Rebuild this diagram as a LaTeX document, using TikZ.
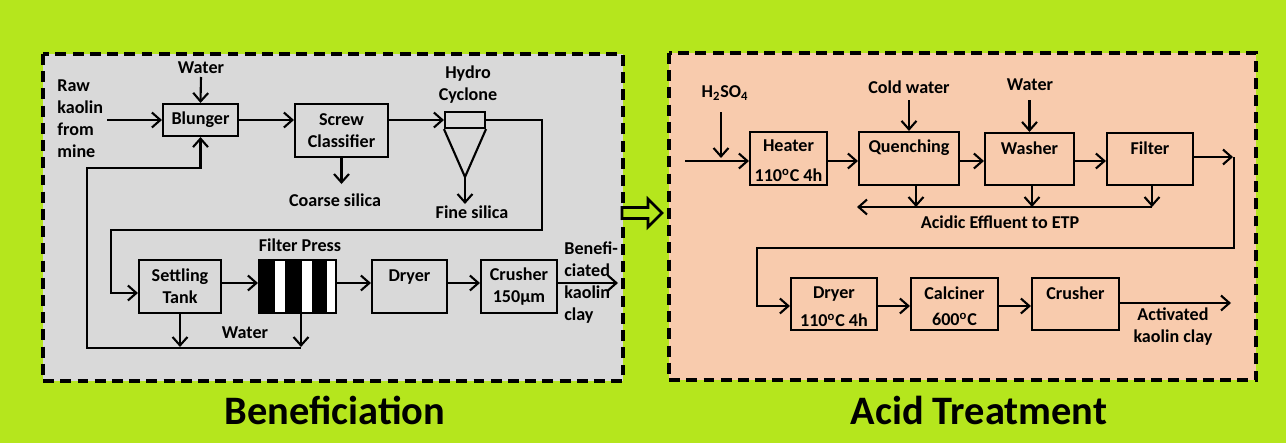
\documentclass[tikz,border=0pt]{standalone}
\usepackage{fontspec}
\setmainfont{Carlito}
\usetikzlibrary{arrows.meta}
\definecolor{bggreen}{HTML}{B5E61D}
\definecolor{panelgray}{HTML}{D9D9D9}
\definecolor{panelpeach}{HTML}{F8CBAD}
\begin{document}
\begin{tikzpicture}[x=0.02cm,y=-0.02cm,
 every node/.style={font=\fontsize{10.3pt}{12.6pt}\selectfont\bfseries, inner sep=0pt},
 box/.style={draw, line width=1.2pt, rectangle, inner sep=0pt},
 txt/.style={align=center},
 ln/.style={line width=1.2pt},
 arr/.style={line width=1.2pt, -{Straight Barb[length=4.8pt,width=8.5pt]}},
 panel/.style={line width=1.9pt, dash pattern=on 6.2pt off 3.6pt},
 title/.style={font=\fontsize{23pt}{27pt}\selectfont\bfseries}]
% background
\fill[bggreen] (0,0) rectangle (1286,443);
\useasboundingbox (0,0) rectangle (1286,443);
% panels
\draw[panel, fill=panelgray] (43,54) rectangle (623,381);
\draw[panel, fill=panelpeach] (669,53) rectangle (1256,380);
% transfer arrow
\draw[line width=1.5pt, fill=bggreen, line join=miter] (622,207.5) -- (648,207.5) -- (648,199) -- (662,213) -- (648,227) -- (648,218.5) -- (622,218.5) -- cycle;

% ---------- Beneficiation ----------
\node[txt, align=left, anchor=west] (raw) at (57,118.5) {Raw\\kaolin\\from\\mine};
\coordinate (rawend) at (107,120);
\node[box, minimum width=1.5cm, minimum height=0.64cm] (blunger) at (200.5,120) {};
\node[txt] (blungerT) at (blunger.center) {Blunger};
\node[txt] (water1) at (201,68) {Water};
\coordinate (water1e) at (201,77);
\node[box, minimum width=1.86cm, minimum height=1.06cm] (screw) at (341.5,130.5) {};
\node[txt] (screwT) at (screw.center) {Screw\\Classifier};
\node[txt] (coarse) at (335,200) {Coarse silica};
\coordinate (coarseE) at (341.5,184);
\node[txt] (hydro) at (468,85) {Hydro\\Cyclone};
\node[box, minimum width=0.8cm, minimum height=0.32cm] (cyctop) at (465,120) {};
\coordinate (apex) at (465,177);
\node[txt] (fine) at (472,212) {Fine silica};
\coordinate (fineE) at (465,204);
\node[txt] (fptxt) at (300,245) {Filter Press};
\node[box, minimum width=1.64cm, minimum height=1.06cm] (settling) at (180,286.5) {};
\node[txt] (settlingT) at (settling.center) {Settling\\Tank};
\node[box, fill=white, minimum width=1.54cm, minimum height=1.06cm] (fp) at (297.5,286.5) {};
\fill (259,260) rectangle (275,313);
\fill (285,260) rectangle (302,313);
\fill (312,260) rectangle (327,313);
\node[box, minimum width=1.5cm, minimum height=1.06cm] (dryerL) at (409.5,286.5) {};
\node[txt] (dryerLT) at (409.5,277) {Dryer};
\node[box, minimum width=1.52cm, minimum height=1.06cm] (crusherL) at (519,286.5) {};
\node[txt] (crusherLT) at (crusherL.center) {Crusher\\150µm};
\node[txt, align=left, anchor=west] (benef) at (564,282.5) {Benefi-\\ciated\\kaolin\\clay};
\coordinate (benefE) at (618,283);
\node[txt] (water2) at (245,333) {Water};
\coordinate (st1) at (180,347);
\coordinate (fp1) at (301,347);
\coordinate (loopA) at (301,348);

\draw[arr] (rawend) -- (blunger.west |- rawend);
\draw[arr] (water1e) -- (blunger.north);
\draw[arr] (blunger.east) -- (blunger.east -| screw.west);
\draw[arr] (screw.east |- blunger.east) -- (cyctop.west);
\draw[ln, line join=miter] (cyctop.south west) -- (apex) -- (cyctop.south east);
\draw[arr] (apex) -- (fineE);
\draw[arr] (screw.south) -- (coarseE);
\draw[arr] (cyctop.east) -| (542,230) -| (111,293) -- (settling.west |- 111,293);
\draw[arr] (settling.east |- 0,283) -- (fp.west |- 0,283);
\draw[arr] (fp.east |- 0,283) -- (dryerL.west |- 0,283);
\draw[arr] (dryerL.east |- 0,283) -- (crusherL.west |- 0,283);
\draw[arr] (crusherL.east |- 0,283) -- (benefE);
\draw[arr] (settling.south) -- (st1);
\draw[arr] (fp.south -| fp1) -- (fp1);
\draw[arr] (loopA) -| (87,168) -| (blunger.south);

% ---------- Acid treatment ----------
\node[txt] (h2so4) at (725,93) {H\textsubscript{2}SO\textsubscript{4}};
\coordinate (h2e) at (721,112);
\coordinate (inS) at (685,161);
\node[box, minimum width=1.54cm, minimum height=1.06cm] (heater) at (788.5,158.5) {};
\node[txt] (heaterT) at (788.5,161) {Heater\\[4.5pt]110\textsuperscript{o}C 4h};
\node[txt] (cold) at (909,87) {Cold water};
\coordinate (coldE) at (909,100);
\node[box, minimum width=2.0cm, minimum height=1.06cm] (quench) at (909,158.5) {};
\node[txt] (quenchT) at (909,148) {Quenching};
\node[txt] (water3) at (1030,85) {Water};
\coordinate (water3E) at (1029.5,100);
\node[box, minimum width=1.78cm, minimum height=1.04cm] (washer) at (1029.5,159) {};
\node[txt] (washerT) at (1029.5,148.5) {Washer};
\node[box, minimum width=1.72cm, minimum height=1.04cm] (filterR) at (1150,159) {};
\node[txt] (filterRT) at (1150,148.5) {Filter};
\coordinate (filtE) at (1233,157);
\coordinate (turn) at (1234,157);
\node[txt] (effl) at (1000,222) {Acidic Effluent to ETP};
\coordinate (effR) at (1152,207);
\coordinate (effL) at (857,207);
\node[box, minimum width=1.72cm, minimum height=1.04cm] (dryerR) at (834,304) {};
\node[txt] (dryerRT) at (834,307) {Dryer\\[3.5pt]110\textsuperscript{o}C 4h};
\node[box, minimum width=1.74cm, minimum height=1.04cm] (calciner) at (954.5,304) {};
\node[txt] (calcinerT) at (954.5,306) {Calciner\\[2.5pt]600\textsuperscript{o}C};
\node[box, minimum width=1.74cm, minimum height=1.04cm] (crusherR) at (1075.5,304) {};
\node[txt] (crusherRT) at (1075.5,293.5) {Crusher};
\node[txt] (activ) at (1173,326.5) {Activated\\kaolin clay};
\coordinate (actE) at (1231,303);

\draw[arr] (h2e) -- (721,158);
\draw[arr] (inS) -- (heater.west |- inS);
\draw[arr] (heater.east |- inS) -- (quench.west |- inS);
\draw[arr] (quench.east |- inS) -- (washer.west |- inS);
\draw[arr] (washer.east |- inS) -- (filterR.west |- inS);
\draw[arr] (coldE) -- (quench.north);
\draw[arr] (water3E) -- (washer.north);
\draw[arr] (filterR.east |- filtE) -- (filtE);
\draw[arr] (turn) |- (757,248) |- (dryerR.west |- 0,306);
\draw[arr] (quench.south -| 916,0) -- (916,207);
\draw[arr] (washer.south -| 1032,0) -- (1032,207);
\draw[arr] (filterR.south -| effR) -- (effR);
\draw[arr] (effR) -- (effL);
\draw[arr] (dryerR.east |- 0,306) -- (calciner.west |- 0,306);
\draw[arr] (calciner.east |- 0,306) -- (crusherR.west |- 0,306);
\draw[arr] (crusherR.east |- actE) -- (actE);

% titles
\node[title] (t1) at (335,410) {Beneficiation};
\node[title] (t2) at (979,410) {Acid Treatment};
\end{tikzpicture}
\end{document}
